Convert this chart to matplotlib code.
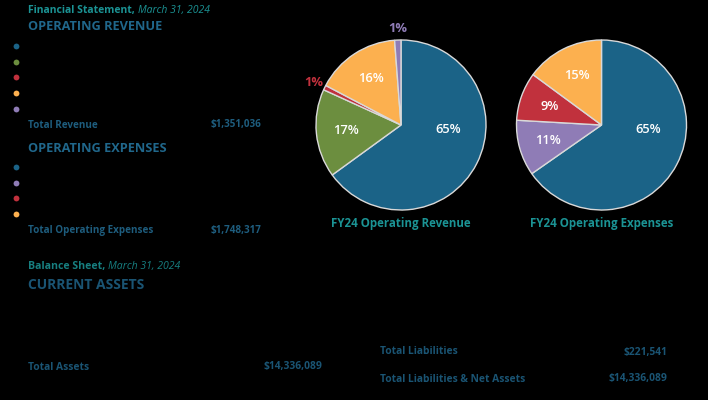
import matplotlib

matplotlib.use("Agg")
import matplotlib.pyplot as plt
from matplotlib import font_manager

# palette
BLUE = "#1b6387"
GREEN = "#6c8e3f"
RED = "#c1313d"
ORANGE = "#fcb04f"
PURPLE = "#8f7cb6"
TEAL = "#1b9394"
HEAD = "#20678b"
TOTAL = "#1e5d7e"
DIM = "#1a5473"

# data
revenue_pct = [65.0, 16.8, 0.9, 16.1, 1.2]
revenue_colors = [BLUE, GREEN, RED, ORANGE, PURPLE]
expense_pct = [65.3, 10.6, 9.2, 14.9]
expense_colors = [BLUE, PURPLE, RED, ORANGE]

total_revenue = "$1,351,036"
total_expenses = "$1,748,317"
total_assets = "$14,336,089"
total_liabilities = "$221,541"
total_liab_net = "$14,336,089"

W, H = 708, 400

names = {f.name for f in font_manager.fontManager.ttflist}
FONT = "Open Sans" if "Open Sans" in names else "DejaVu Sans"
NARROW = "Liberation Sans Narrow" if "Liberation Sans Narrow" in names else FONT
plt.rcParams["font.family"] = [FONT, "DejaVu Sans"]

fig = plt.figure(figsize=(W / 100, H / 100), dpi=100, facecolor="black")
bg = fig.add_axes([0, 0, 1, 1])
bg.set_xlim(0, W)
bg.set_ylim(H, 0)
bg.axis("off")


def txt(x, y, s, **kw):
    kw.setdefault("va", "center")
    bg.text(x, y, s, **kw)


def pair(x, y, first, second, color, size, family):
    t = bg.text(x, y, first, color=color, fontsize=size, fontweight="bold", family=family, va="center")
    fig.canvas.draw()
    bb = t.get_window_extent()
    x_end = bg.transData.inverted().transform((bb.x1, 0))[0]
    txt(x_end, y, second, color=color, fontsize=size, style="italic", family=family)


# financial statement
pair(28, 10, "Financial Statement, ", "March 31, 2024", TEAL, 7.5, FONT)

txt(28, 26, "OPERATING REVENUE", color=HEAD, fontsize=9.2, fontweight="bold")
for i, c in enumerate(revenue_colors):
    bg.plot(16, 46 + i * 15.7, "o", color=c, markersize=4.2, markeredgewidth=0)
txt(28, 125, "Total Revenue", color=TOTAL, fontsize=7.1, fontweight="bold")
txt(261, 125, total_revenue, color=TOTAL, fontsize=7.1, fontweight="bold", ha="right")

txt(28, 148, "OPERATING EXPENSES", color=HEAD, fontsize=9.2, fontweight="bold")
for i, c in enumerate(expense_colors):
    bg.plot(16, 167 + i * 15.7, "o", color=c, markersize=4.2, markeredgewidth=0)
txt(28, 230, "Total Operating Expenses", color=TOTAL, fontsize=7.1, fontweight="bold")
txt(261, 230, total_expenses, color=TOTAL, fontsize=7.1, fontweight="bold", ha="right")

# balance sheet
pair(28, 267, "Balance Sheet, ", "March 31, 2024", "#177f80", 7.6, NARROW)
txt(28, 285, "CURRENT ASSETS", color=DIM, fontsize=10, fontweight="bold", family=NARROW)
txt(28, 367, "Total Assets", color=DIM, fontsize=7.4, fontweight="bold", family=NARROW)
txt(322, 367, total_assets, color=DIM, fontsize=7.4, fontweight="bold", family=NARROW, ha="right")
txt(380, 352, "Total Liabilities", color=DIM, fontsize=7.4, fontweight="bold", family=NARROW)
txt(667, 352, total_liabilities, color=DIM, fontsize=7.4, fontweight="bold", family=NARROW, ha="right")
txt(380, 379, "Total Liabilities & Net Assets", color=DIM, fontsize=7.4, fontweight="bold", family=NARROW)
txt(667, 379, total_liab_net, color=DIM, fontsize=7.4, fontweight="bold", family=NARROW, ha="right")


def draw_pie(cx, cy, r, values, colors, title):
    ax = fig.add_axes([(cx - r) / W, (H - cy - r) / H, 2 * r / W, 2 * r / H])
    wedges, _, autotexts = ax.pie(
        values,
        colors=colors,
        startangle=90,
        counterclock=False,
        autopct=lambda p: f"{p:.0f}%",
        pctdistance=0.65,
        wedgeprops=dict(edgecolor="#d9d9d9", linewidth=1.0),
        textprops=dict(color="white", fontsize=9.3, fontweight="semibold"),
    )
    for w, at, v in zip(wedges, autotexts, values):
        if v > 50:
            at.set_position((0.55, -0.05))
        elif v < 3:
            at.set_color(w.get_facecolor())
            at.set_fontweight("bold")
            x, y = at.get_position()
            k = 1.14 / 0.65
            at.set_position((x * k, y * k))
    ax.set_xlim(-1, 1)
    ax.set_ylim(-1, 1)
    ax.set_aspect("equal")
    ax.axis("off")
    txt(cx, 224, title, color=TEAL, fontsize=8.3, fontweight="bold", ha="center")


draw_pie(401, 125, 85, revenue_pct, revenue_colors, "FY24 Operating Revenue")
draw_pie(601.5, 125, 85, expense_pct, expense_colors, "FY24 Operating Expenses")

fig.savefig("out.png", dpi=100, facecolor="black")
